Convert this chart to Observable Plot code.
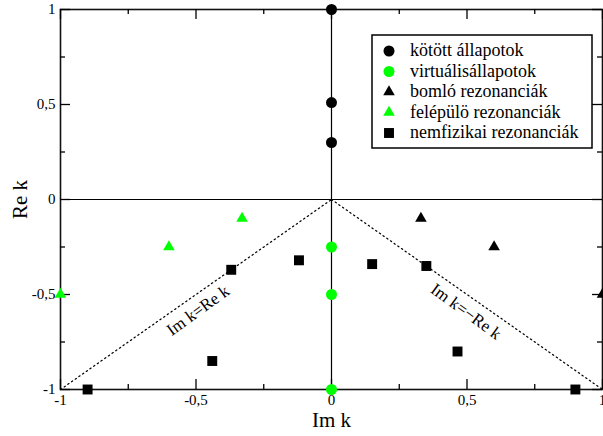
<!DOCTYPE html>
<html><head><meta charset="utf-8">
<script src="https://cdn.jsdelivr.net/npm/d3@7"></script>
<script src="https://cdn.jsdelivr.net/npm/@observablehq/plot@0.6"></script>
<style>body{margin:0;background:#fff} svg{display:block}</style>
</head><body><div id="chart"></div>
<script>
// ---- data ----
const seriesNames = ["kötött állapotok","virtuálisállapotok","bomló rezonanciák","felépülö rezonanciák","nemfizikai rezonanciák"];
const seriesColors = ["#000000","#00ff00","#000000","#00ff00","#000000"];
const seriesSymbols = ["circle","circle","triangle","triangle","square"];
const boundX = [0,0,0];            const boundY = [1,0.51,0.30];
const virtualX = [0,0,0];          const virtualY = [-0.25,-0.5,-1];
const decayX = [0.33,0.6,1];       const decayY = [-0.1,-0.25,-0.5];
const growX = [-0.33,-0.6,-1];     const growY = [-0.1,-0.25,-0.5];
const unphysX = [-0.9,-0.37,-0.12,0.15,0.35,-0.44,0.465,0.9];
const unphysY = [-1,-0.37,-0.32,-0.34,-0.35,-0.85,-0.8,-1];
const majorTicks = [-1,-0.5,0,0.5,1];
const minorTicks = [-0.75,-0.25,0.25,0.75];
const xLabel = "Im k", yLabel = "Re k";
const diagLabels = ["Im k=Re k","Im k=\u2212Re k"];

// ---- build table ----
const seriesXY = [[boundX,boundY],[virtualX,virtualY],[decayX,decayY],[growX,growY],[unphysX,unphysY]];
const pts = [];
seriesXY.forEach(([xs,ys],i)=>xs.forEach((x,j)=>pts.push({x, y: ys[j], s: i})));

const W=603,H=436,mL=60,mR=1,mT=9,mB=47;
const fw=W-mL-mR, fh=H-mT-mB;
const fmt = d => String(d).replace(".", ",");
const font = "'Liberation Serif','Times New Roman',serif";
const symR = {circle:5.5, square:5.6, triangle:4.3};

const dotMarks = seriesNames.map((n,i)=>Plot.dot(pts.filter(p=>p.s===i), {
  x:"x", y:"y", symbol: ()=>seriesSymbols[i], r: symR[seriesSymbols[i]], fill: seriesColors[i], stroke: "none"
}));

const chart = Plot.plot({
  width: W, height: H, marginLeft: mL, marginRight: mR, marginTop: mT, marginBottom: mB,
  x: {domain:[-1,1], axis: null},
  y: {domain:[-1,1], axis: null},
  symbol: {type:"identity"},
  style: {fontFamily: font, background:"#fff", color:"#000", overflow:"visible"},
  marks: [
    Plot.ruleY([0], {stroke:"#000", strokeWidth:1.2}),
    Plot.ruleX([0], {stroke:"#000", strokeWidth:1.2}),
    Plot.line([-1,0], {x:d=>d, y:d=>d, stroke:"#000", strokeWidth:1.3, strokeDasharray:"1.3,3.2"}),
    Plot.line([0,1], {x:d=>d, y:d=>-d, stroke:"#000", strokeWidth:1.3, strokeDasharray:"1.3,3.2"}),
    Plot.frame({stroke:"#111", strokeWidth:1.6}),
    // ticks (inward, both sides)
    Plot.tickX(majorTicks, {x:d=>d, insetTop: fh-10, stroke:"#000", strokeWidth:1.3}),
    Plot.tickX(minorTicks, {x:d=>d, insetTop: fh-5, stroke:"#000", strokeWidth:1.3}),
    Plot.tickX(majorTicks, {x:d=>d, insetBottom: fh-10, stroke:"#000", strokeWidth:1.3}),
    Plot.tickX(minorTicks, {x:d=>d, insetBottom: fh-5, stroke:"#000", strokeWidth:1.3}),
    Plot.tickY(majorTicks, {y:d=>d, insetRight: fw-10, stroke:"#000", strokeWidth:1.3}),
    Plot.tickY(minorTicks, {y:d=>d, insetRight: fw-5, stroke:"#000", strokeWidth:1.3}),
    Plot.tickY(majorTicks, {y:d=>d, insetLeft: fw-10, stroke:"#000", strokeWidth:1.3}),
    Plot.tickY(minorTicks, {y:d=>d, insetLeft: fw-5, stroke:"#000", strokeWidth:1.3}),
    Plot.axisX({ticks: majorTicks, tickSize:0, tickPadding:5, tickFormat: fmt, fontSize:15, label:null}),
    Plot.axisY({ticks: majorTicks, tickSize:0, tickPadding:5, tickFormat: fmt, fontSize:15, label:null}),
    Plot.text([xLabel], {frameAnchor:"bottom", dy:31, textAnchor:"middle", lineAnchor:"middle", fontSize:21, fill:"#000"}),
    Plot.text([yLabel], {frameAnchor:"left", dx:-40, rotate:-90, textAnchor:"middle", lineAnchor:"middle", fontSize:21, fill:"#000"}),
    Plot.text([diagLabels[0]], {x:()=>-0.5, y:()=>-0.5, rotate:-36, dy:16, dx:2, fontSize:17, fill:"#000"}),
    Plot.text([diagLabels[1]], {x:()=>0.5, y:()=>-0.5, rotate:36, dy:17, dx:-1, fontSize:17, fill:"#000"}),
    ...dotMarks
  ]
});
document.getElementById("chart").appendChild(chart);

// ---- legend ----
const svg = d3.select(chart);
const lg = svg.append("g").attr("text-anchor","start");
lg.append("rect").attr("x",372).attr("y",35).attr("width",220).attr("height",113)
  .attr("fill","#fff").attr("stroke","#000").attr("stroke-width",1.5);
seriesNames.forEach((n,i)=>{
  const cy = 51 + i*20.5;
  const r = symR[seriesSymbols[i]];
  const sym = {circle:d3.symbolCircle, square:d3.symbolSquare, triangle:d3.symbolTriangle}[seriesSymbols[i]];
  lg.append("path").attr("d", d3.symbol(sym, r*r*Math.PI)())
    .attr("transform",`translate(389,${cy})`).attr("fill", seriesColors[i]);
  lg.append("text").attr("x",410).attr("y",cy+5).attr("font-size",18)
    .attr("text-anchor","start")
    .attr("font-family",font).attr("fill","#000").text(n);
});
</script>
</body></html>
